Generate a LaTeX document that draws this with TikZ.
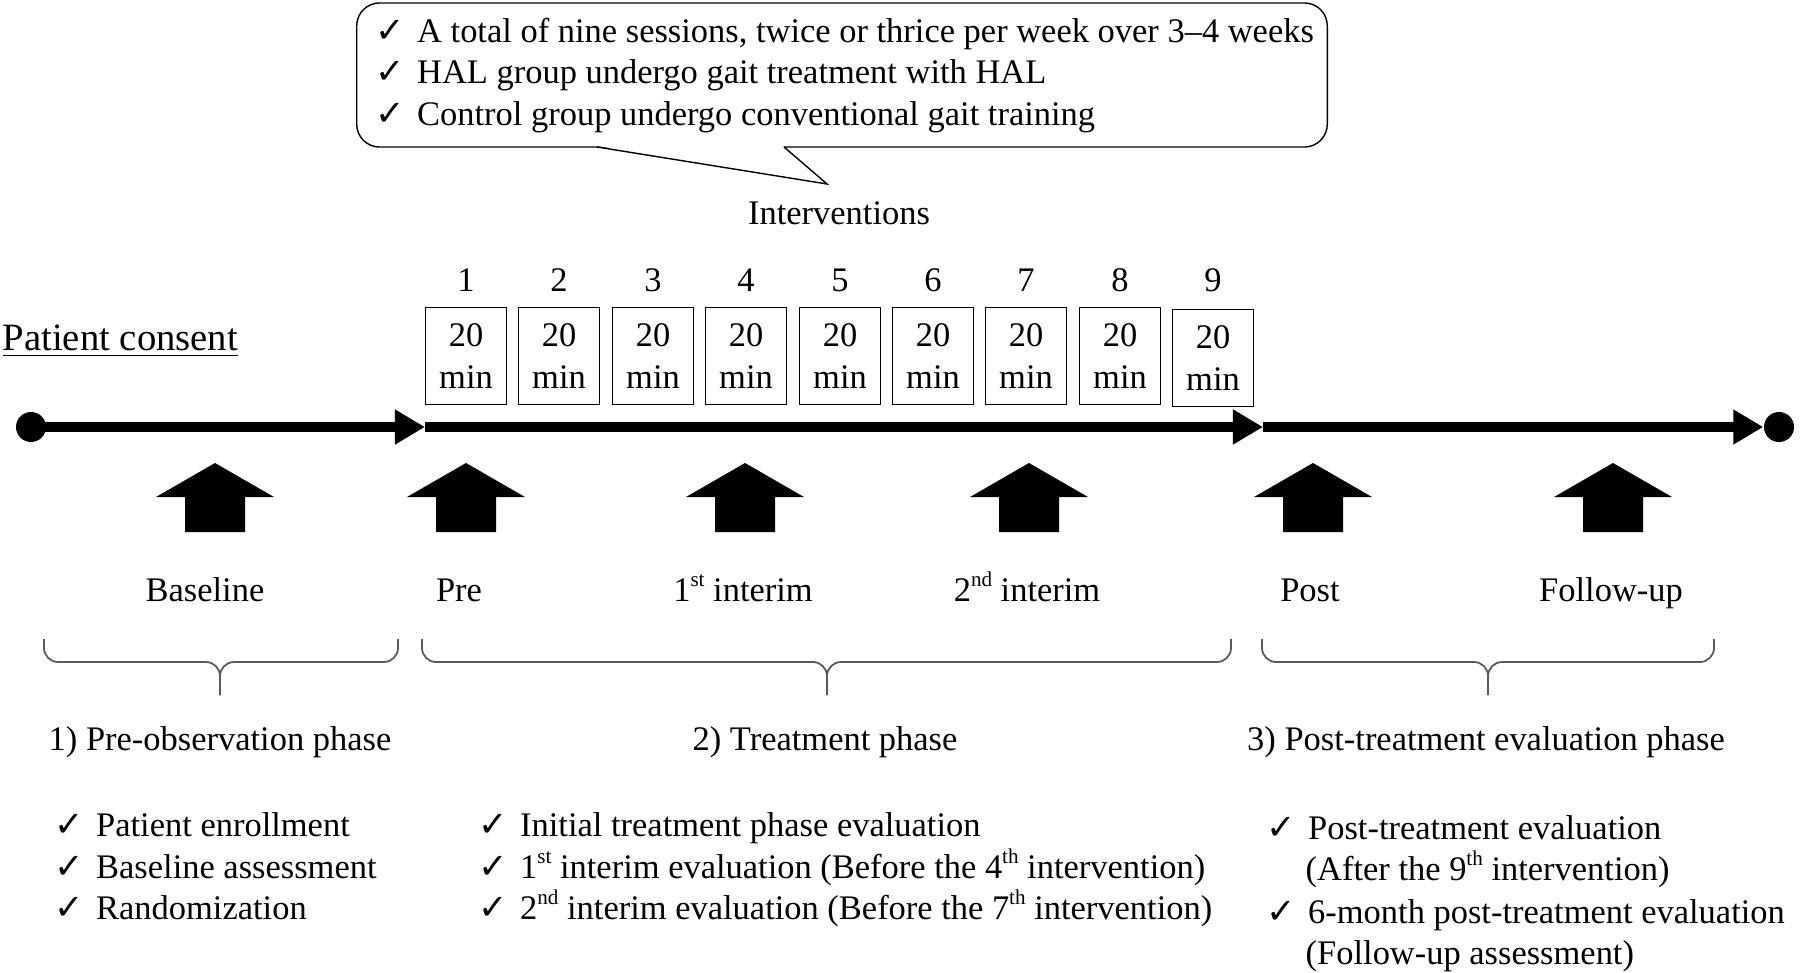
\documentclass[tikz,border=0pt]{standalone}
\usepackage{fontspec}
\setmainfont{Liberation Serif}
\newfontfamily\checkfont{DejaVu Sans}
\usetikzlibrary{arrows.meta,positioning}
\newcommand{\chk}{{\checkfont\fontsize{10}{10}\selectfont ✓}\hspace{0.12cm}}
\newcommand{\sups}[1]{\raisebox{0.42em}{\fontsize{6}{6}\selectfont #1}}
\tikzset{
  lbl/.style={font=\fontsize{9.8}{11.8}\selectfont, inner sep=0pt},
  session/.style={draw, minimum width=0.81cm, minimum height=0.97cm, align=center, lbl},
  mainline/.style={line width=2.85pt, -{Triangle[length=0.30cm,width=0.33cm]}},
  dot/.style={fill, circle, inner sep=0pt, minimum size=0.30cm},
  phase/.style={draw=black!65, line width=0.5pt, rounded corners=4pt},
  uparrow/.pic={\fill (0,0) -- (59,34) -- (30,34) -- (30,69) -- (-30,69) -- (-30,34) -- (-59,34) -- cycle;}
}
\begin{document}
\begin{tikzpicture}[x=0.01cm, y=-0.01cm]
\useasboundingbox (0,0) rectangle (1800,973);

% callout
\node[draw, rounded corners=6.5pt, minimum width=9.70cm, minimum height=1.44cm] (note) at (842,75) {};
\node[lbl, anchor=base west] (note1) at (375,43) {\chk A total of nine sessions, twice or thrice per week over 3–4 weeks};
\node[lbl, anchor=base west] (note2) at (375,84) {\chk HAL group undergo gait treatment with HAL};
\node[lbl, anchor=base west] (note3) at (375,126) {\chk Control group undergo conventional gait training};
\node[lbl, anchor=base] (interv) at (839,225) {Interventions};
\coordinate (tip) at (827,184);
\fill[white] (598,146) -- (tip) -- (783,146) -- cycle;
\draw (597,147) -- (tip) -- (784,147);

% sessions
\node[lbl] (n1) at (466,280) {1};
\node[lbl] (n2) at (559,280) {2};
\node[lbl] (n3) at (653,280) {3};
\node[lbl] (n4) at (746,280) {4};
\node[lbl] (n5) at (840,280) {5};
\node[lbl] (n6) at (933,280) {6};
\node[lbl] (n7) at (1026,280) {7};
\node[lbl] (n8) at (1120,280) {8};
\node[lbl] (n9) at (1213,280) {9};
\node[session] (s1) at (466,356) {20\\min};
\node[session] (s2) at (559,356) {20\\min};
\node[session] (s3) at (653,356) {20\\min};
\node[session] (s4) at (746,356) {20\\min};
\node[session] (s5) at (840,356) {20\\min};
\node[session] (s6) at (933,356) {20\\min};
\node[session] (s7) at (1026,356) {20\\min};
\node[session] (s8) at (1120,356) {20\\min};
\node[session] (s9) at (1213,358) {20\\min};

% timeline
\node[lbl, anchor=base west, font=\fontsize{11}{13}\selectfont] (consent) at (2,350) {\underline{Patient consent}};
\node[dot] (start) at (31,427) {};
\coordinate (t1) at (425,427);
\coordinate (t2) at (1263,427);
\node[dot] (end) at (1779,427) {};
\draw[mainline] (start.center) -- (t1);
\draw[mainline] (t1) -- (t2);
\draw[mainline] (t2) -- (end);

% assessments
\pic (a1) at (215,463) {uparrow};
\pic (a2) at (466,463) {uparrow};
\pic (a3) at (745,463) {uparrow};
\pic (a4) at (1029,463) {uparrow};
\pic (a5) at (1313,463) {uparrow};
\pic (a6) at (1613,463) {uparrow};
\node[lbl, anchor=base] (baseline) at (205,601) {Baseline};
\node[lbl, anchor=base] (pre) at (459,601) {Pre};
\node[lbl, anchor=base] (int1) at (743,601) {1\sups{st} interim};
\node[lbl, anchor=base] (int2) at (1027,601) {2\sups{nd} interim};
\node[lbl, anchor=base] (post) at (1310,601) {Post};
\node[lbl, anchor=base] (follow) at (1611,601) {Follow-up};

% phases
\draw[phase] (44,639) -- (44,662) -- (220,662) -- (220,695);
\draw[phase] (398,639) -- (398,662) -- (220,662) -- (220,695);
\draw[phase] (422,639) -- (422,662) -- (827,662) -- (827,695);
\draw[phase] (1231,639) -- (1231,662) -- (827,662) -- (827,695);
\draw[phase] (1262,639) -- (1262,662) -- (1488,662) -- (1488,695);
\draw[phase] (1714,639) -- (1714,662) -- (1488,662) -- (1488,695);
\node[lbl, anchor=base] (ph1) at (220,750) {1) Pre-observation phase};
\node[lbl, anchor=base] (ph2) at (825,750) {2) Treatment phase};
\node[lbl, anchor=base] (ph3) at (1486,750) {3) Post-treatment evaluation phase};

% lists
\node[lbl, anchor=base west] (l11) at (54,836) {\chk Patient enrollment};
\node[lbl, anchor=base west] (l12) at (54,878) {\chk Baseline assessment};
\node[lbl, anchor=base west] (l13) at (54,919) {\chk Randomization};
\node[lbl, anchor=base west] (l21) at (478,836) {\chk Initial treatment phase evaluation};
\node[lbl, anchor=base west] (l22) at (478,878) {\chk 1\sups{st} interim evaluation (Before the 4\sups{th} intervention)};
\node[lbl, anchor=base west] (l23) at (478,919) {\chk 2\sups{nd} interim evaluation (Before the 7\sups{th} intervention)};
\node[lbl, anchor=base west] (l31) at (1266,839) {\chk Post-treatment evaluation};
\node[lbl, anchor=base west] (l32) at (1305,880) {(After the 9\sups{th} intervention)};
\node[lbl, anchor=base west] (l33) at (1266,923) {\chk 6-month post-treatment evaluation};
\node[lbl, anchor=base west] (l34) at (1305,964) {(Follow-up assessment)};
\end{tikzpicture}
\end{document}
